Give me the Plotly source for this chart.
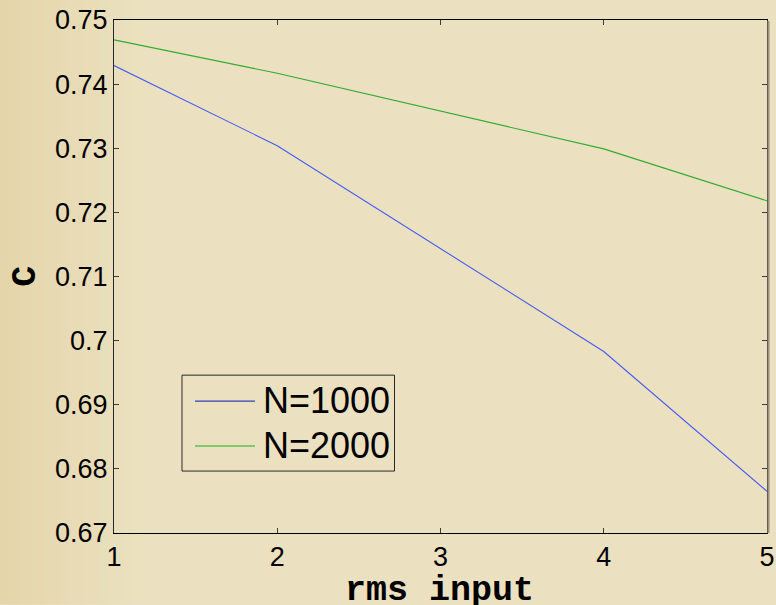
import plotly.graph_objects as go

# ---- data ----
rms_input = [1, 2, 4, 5]
c_n1000 = [0.7429, 0.7304, 0.6983, 0.6765]
c_n2000 = [0.7469, 0.7417, 0.7299, 0.7218]
series_names = ["N=1000", "N=2000"]
y_tickvals = [0.67, 0.68, 0.69, 0.70, 0.71, 0.72, 0.73, 0.74, 0.75]
y_ticktext = ["0.67", "0.68", "0.69", "0.7", "0.71", "0.72", "0.73", "0.74", "0.75"]
x_tickvals = [1, 2, 3, 4, 5]

W, H = 776, 605
L, R, T, B = 114, 767, 20, 533.5
PW, PH = R - L, B - T


def px(x):
    return (x - L) / PW


def py(y):
    return (B - y) / PH


BG = "rgb(235,225,192)"

fig = go.Figure()
fig.add_trace(go.Scatter(x=rms_input, y=c_n1000, mode="lines", name=series_names[0],
                         line=dict(color="rgb(70,90,245)", width=1.1), showlegend=False))
fig.add_trace(go.Scatter(x=rms_input, y=c_n2000, mode="lines", name=series_names[1],
                         line=dict(color="rgb(50,170,50)", width=1.1), showlegend=False))

shapes = []
# background gradient on the left
n = 36
for i in range(n):
    x0 = i * 4
    t = i / (n - 1)
    r = round(229 + (235 - 229) * t)
    g = round(213 + (225 - 213) * t)
    b = round(170 + (192 - 170) * t)
    shapes.append(dict(type="rect", xref="paper", yref="paper", layer="below",
                       x0=px(x0), x1=px(x0 + 4.5), y0=py(H), y1=py(0),
                       fillcolor=f"rgb({r},{g},{b})", line=dict(width=0)))
# right axis shadow
shapes.append(dict(type="line", xref="paper", yref="paper",
                   x0=px(768.5), x1=px(768.5), y0=py(B), y1=py(T + 1),
                   line=dict(color="rgb(150,145,130)", width=2)))
# legend box
shapes.append(dict(type="rect", xref="paper", yref="paper",
                   x0=px(182), x1=px(394.5), y0=py(471.5), y1=py(375.5),
                   fillcolor=BG, line=dict(color="rgb(40,40,40)", width=1)))
shapes.append(dict(type="line", xref="paper", yref="paper",
                   x0=px(195), x1=px(255), y0=py(401.5), y1=py(401.5),
                   line=dict(color="rgb(50,65,180)", width=1.3)))
shapes.append(dict(type="line", xref="paper", yref="paper",
                   x0=px(195), x1=px(255), y0=py(446.5), y1=py(446.5),
                   line=dict(color="rgb(130,200,110)", width=2)))

annotations = [
    dict(text=series_names[0], xref="paper", yref="paper", x=px(261), y=py(401),
         xanchor="left", yanchor="middle", showarrow=False,
         font=dict(family="Liberation Sans, Arial", size=36, color="black")),
    dict(text=series_names[1], xref="paper", yref="paper", x=px(261), y=py(446),
         xanchor="left", yanchor="middle", showarrow=False,
         font=dict(family="Liberation Sans, Arial", size=36, color="black")),
    dict(text="<b>rms input</b>", xref="paper", yref="paper", x=px(439), y=py(592),
         xanchor="center", yanchor="middle", showarrow=False,
         font=dict(family="Liberation Mono, monospace", size=35, color="black")),
    dict(text="<b>C</b>", xref="paper", yref="paper", x=px(26), y=py(277),
         xanchor="center", yanchor="middle", showarrow=False, textangle=-90,
         font=dict(family="Liberation Mono, monospace", size=35, color="black")),
]

fig.update_layout(
    width=W, height=H, autosize=False,
    margin=dict(l=L, r=W - R, t=T, b=H - B, pad=0, autoexpand=False),
    paper_bgcolor=BG, plot_bgcolor=BG,
    shapes=shapes, annotations=annotations,
    showlegend=False,
    font=dict(family="Liberation Sans, Arial", size=27, color="black"),
)
fig.update_xaxes(range=[1, 5], tickvals=x_tickvals, ticks="inside", ticklen=5,
                 tickcolor="rgb(60,60,60)", showgrid=False, zeroline=False,
                 showline=True, linecolor="black", linewidth=1, mirror="ticks",
                 tickfont=dict(size=27), automargin=False)
fig.update_yaxes(range=[0.67, 0.75], tickvals=y_tickvals, ticktext=y_ticktext,
                 ticks="inside", ticklen=5, tickcolor="rgb(60,60,60)",
                 showgrid=False, zeroline=False, showline=True,
                 linecolor="rgb(40,40,40)", linewidth=1, mirror="ticks",
                 tickfont=dict(size=27), automargin=False)

fig.write_html("out.html")
